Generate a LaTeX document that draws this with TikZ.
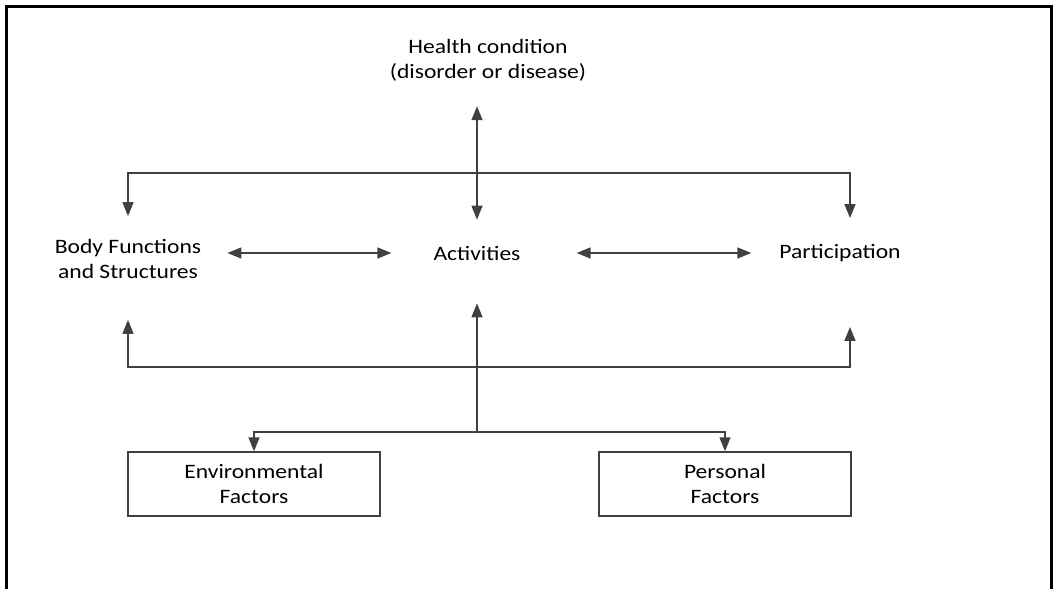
\documentclass[tikz,border=0pt]{standalone}
\usepackage{fontspec}
\setmainfont{Carlito}[FakeStretch=1.15]
\usetikzlibrary{arrows.meta, positioning}

\tikzset{
  conn/.style = {draw=black!75, line width=1.5pt},
  box/.style  = {draw=black!75, line width=1.5pt, minimum width=252pt, minimum height=64pt},
}

\begin{document}
\begin{tikzpicture}[x=1pt, y=-1pt, >={Triangle[length=14pt, width=11pt]},
    every node/.style={text=black, align=center, inner sep=0pt, font=\fontsize{20.5}{25}\selectfont}]
  \useasboundingbox (0,0) rectangle (1057,589);
  % frame
  \draw[line width=3pt] (6,589) |- (1051,6) -- (1051,589);

  % the components
  \node (health) at (488,60) {Health condition\\(disorder or disease)};
  \node (act)  at (477,253) {Activities};
  \node (body) at (128,259) {Body Functions\\and Structures};
  \node (part) at (840,253) {Participation};
  \node[box] (env)  at (254,484) {Environmental\\Factors};
  \node[box] (pers) at (725,484) {Personal\\Factors};

  \coordinate (hub)  at (477,173);
  \coordinate (base) at (477,367);
  \coordinate (fork) at (477,432);

  % health condition
  \draw[conn, <->, shorten <=25pt, shorten >=26pt] (health.south -| act) -- (act);
  \draw[conn, ->, shorten >=23pt] (hub) -| (body);
  \draw[conn, ->, shorten >=26pt] (hub) -| ([xshift=10pt]part.north);

  % middle row
  \draw[conn, <->, shorten <=26pt, shorten >=42pt, yshift=6pt] (body.east |- act.west) -- (act.west);
  \draw[conn, <->, shorten <=56pt, shorten >=28pt, yshift=3pt] (act.east) -- (part.west);

  % contextual factors
  \draw[conn, ->, shorten >=41pt] (base) -| (body);
  \draw[conn, ->, shorten >=65pt] (base) -| ([xshift=10pt]part.south);
  \draw[conn, ->, shorten >=43pt] (fork) -- (act);
  \draw[conn, ->] (fork) -| (env);
  \draw[conn, ->] (fork) -| (pers);
\end{tikzpicture}
\end{document}
